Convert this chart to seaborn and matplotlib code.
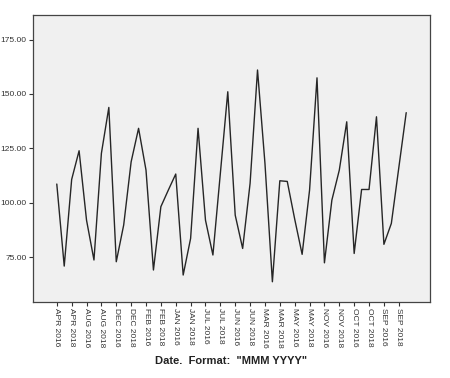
import matplotlib
matplotlib.use("Agg")
import matplotlib.pyplot as plt
import seaborn as sns
import numpy as np
import pandas as pd

tick_labels = ["APR 2016", "APR 2018", "AUG 2016", "AUG 2018", "DEC 2016", "DEC 2018",
               "FEB 2016", "FEB 2018", "JAN 2016", "JAN 2018", "JUL 2016", "JUL 2018",
               "JUN 2016", "JUN 2018", "MAR 2016", "MAR 2018", "MAY 2016", "MAY 2018",
               "NOV 2016", "NOV 2018", "OCT 2016", "OCT 2018", "SEP 2016", "SEP 2018"]

values = [108.6, 70.9, 110.7, 123.9, 92.0, 73.7, 122.7, 143.8, 72.9, 89.8,
          118.8, 134.2, 115.0, 69.1, 98.2, 105.8, 113.2, 66.8, 83.6, 134.2,
          92.0, 76.0, 113.5, 151.0, 94.3, 79.0, 108.9, 161.0, 118.1, 63.7,
          110.1, 109.8, 92.5, 76.3, 105.8, 157.4, 72.4, 101.2, 115.0, 137.2,
          76.7, 106.1, 106.1, 139.5, 80.9, 90.5, 116.0, 141.4]

y_ticks = [75, 100, 125, 150, 175]

df = pd.DataFrame({"idx": np.arange(len(values)), "value": values})

sns.set_style("white")
plt.rcParams['font.family'] = ['Liberation Sans', 'DejaVu Sans']

fig = plt.figure(figsize=(4.5, 3.78), dpi=100)
ax = fig.add_axes([33/450, 1 - 302/378, (430 - 33)/450, (302 - 14.5)/378])
ax.set_facecolor("#f0f0f0")

sns.lineplot(data=df, x="idx", y="value", ax=ax, color="#262626", linewidth=1.0)

ax.set_xlim(-3.2, 50.2)
ax.set_ylim(54.4, 186.5)

ax.set_yticks(y_ticks)
ax.set_yticklabels([f"{v:.2f}" for v in y_ticks], fontsize=6, color="#333333")

ax.set_xticks(np.arange(0, len(values), 2))
ax.set_xticklabels(tick_labels, rotation=-90, fontsize=6, color="#333333")

ax.tick_params(axis="both", direction="out", length=3, width=0.8, color="#333333", pad=1.5)
ax.tick_params(axis="both", which="both", bottom=True, left=True)

for side, sp in ax.spines.items():
    sp.set_color("#444444")
    sp.set_linewidth(0.9)

ax.set_ylabel("")
ax.set_xlabel('Date.  Format:  "MMM YYYY"', fontsize=8, fontweight="bold", color="#222222", labelpad=6)

fig.savefig("out.png", dpi=100, facecolor="white")
